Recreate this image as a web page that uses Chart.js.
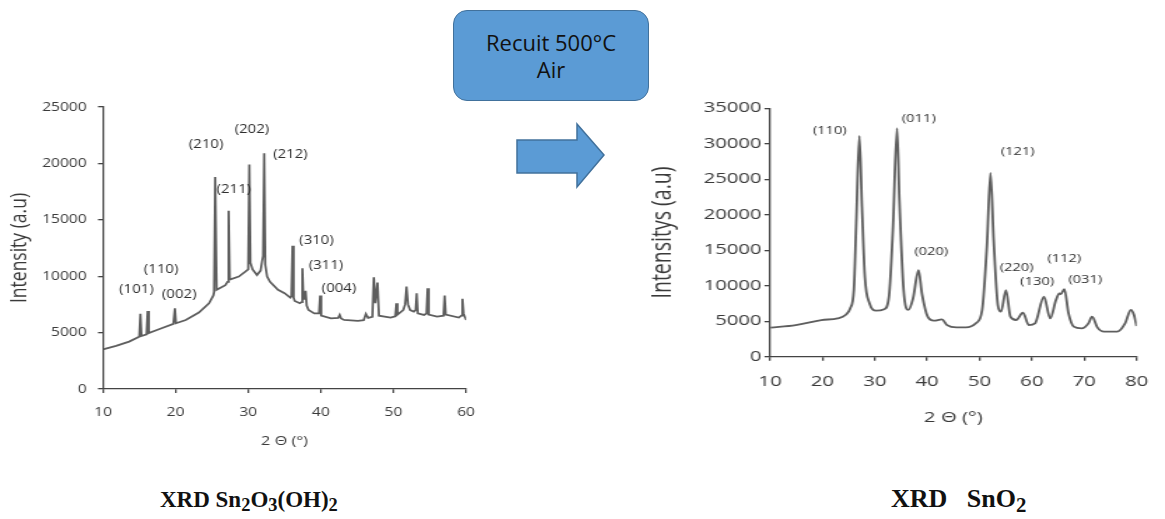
<!DOCTYPE html>
<html>
<head>
<meta charset="utf-8">
<script src="https://cdn.jsdelivr.net/npm/chart.js@4.4.1/dist/chart.umd.min.js"></script>
<style>
  body { margin: 0; background: #fff; width: 1165px; height: 519px; overflow: hidden; position: relative; font-family: "Open Sans", sans-serif; }
  canvas { position: absolute; transform-origin: 0 0; }
  #left { left: 0; top: 90px; transform: scaleX(1.25); }
  #right { left: 640px; top: 90px; transform: scaleX(1.4); }
  #box { position: absolute; left: 453px; top: 10px; width: 194px; height: 89px; border: 1.5px solid #41719c; border-radius: 14px;
         background: #5b9bd5; color: #111; font: 22px/27px "Open Sans", sans-serif; text-align: center;
         display: flex; align-items: center; justify-content: center; }
  #arrow { position: absolute; left: 510px; top: 115px; }
  .ttl { position: absolute; top: 489px; font: bold 23px/22px "Liberation Serif", "Times New Roman", serif; color: #111; white-space: pre; }
  .ttl sub { font-size: 0.8em; vertical-align: -0.22em; line-height: 0; }
</style>
</head>
<body>
<div id="box"><div>Recuit 500°C<br>Air</div></div>
<svg id="arrow" width="100" height="80">
  <polygon points="7,25 67,25 67,9 94,40 67,72 67,58 7,58" fill="#5b9bd5" stroke="#41719c" stroke-width="1.5"/>
</svg>
<canvas id="left" width="392" height="370"></canvas>
<canvas id="right" width="375" height="360"></canvas>
<div class="ttl" style="left:160px">XRD Sn<sub>2</sub>O<sub>3</sub>(OH)<sub>2</sub></div>
<div class="ttl" style="left:891px; top:488px; font-size:26px">XRD   SnO<sub>2</sub></div>
<script>
// Sn2O3(OH)2 pattern
var leftTheta = [10.0, 11.8, 13.6, 14.9, 15.0, 15.15, 15.3, 16.0, 16.15, 16.3, 17.7, 19.7, 19.9, 20.05, 21.4, 23.2,
  24.6, 25.2, 25.3, 25.45, 25.65, 26.85, 27.15, 27.3, 27.45, 28.7, 29.6, 30.0, 30.15, 30.3, 30.6, 31.2, 31.7,
  31.9, 32.05, 32.2, 32.35, 32.6, 33.0, 34.1, 35.0, 35.8, 35.95, 36.1, 36.25, 36.4, 37.1, 37.35, 37.46, 37.6,
  37.75, 37.9, 38.05, 38.3, 39.1, 39.75, 39.9, 40.05, 41.4, 42.4, 42.6, 42.8, 43.2, 45.1, 45.9, 46.2, 46.5,
  47.1, 47.3, 47.5, 47.8, 48.0, 49.6, 50.25, 50.4, 50.55, 51.35, 51.6, 51.8, 52.0, 52.3, 52.8, 53.05, 53.2,
  53.35, 54.2, 54.55, 54.7, 54.85, 56.0, 56.9, 57.05, 57.2, 59.0, 59.35, 59.5, 59.65, 60.0];
var leftIntensity = [3520, 3820, 4200, 4600, 4650, 6660, 4700, 4850, 6920, 4950, 5300, 5780, 7160, 5830, 6120, 6780,
  7600, 8300, 8600, 18800, 8800, 9200, 9500, 15800, 9700, 9970, 10400, 10600, 19900, 11200, 10600, 10100, 10500,
  11300, 11800, 20900, 11000, 9970, 9500, 8800, 8500, 8100, 8200, 12700, 8100, 7800, 7600, 7700, 10700, 8000,
  8000, 8700, 7400, 7000, 6700, 6700, 8280, 6500, 6270, 6300, 6570, 6250, 6120, 6040, 6100, 6660, 6300,
  6400, 9900, 7600, 9440, 6500, 6330, 6450, 7600, 6600, 7000, 7500, 9080, 7500, 7000, 6860, 7000, 8490,
  6700, 6570, 6700, 8930, 6600, 6420, 6500, 8280, 6600, 6330, 6500, 7990, 6700, 6120];
var leftHkl = ['(101)', '(110)', '(002)', '(210)', '(202)', '(211)', '(212)', '(310)', '(311)', '(004)'];
var leftHklTheta = [14.6, 18.0, 20.5, 24.2, 30.5, 28.0, 35.8, 39.4, 40.7, 42.5];
var leftHklIntensity = [8800, 10600, 8400, 21700, 23000, 17700, 20800, 13200, 10900, 8900];

// SnO2 pattern after annealing
var rightTheta = [10.1, 14.9, 19.8, 22.9, 24.4, 25.3, 26.0, 26.45, 27.05, 27.55, 28.1, 29.0, 30.25, 31.8, 32.7,
  33.45, 34.25, 34.7, 35.5, 36.4, 37.3, 38.35, 39.0, 40.1, 41.3, 42.8, 43.8, 45.6, 47.4, 49.3, 50.5, 51.4,
  52.1, 52.7, 53.5, 54.1, 55.05, 55.9, 57.0, 58.3, 59.4, 60.6, 62.3, 63.5, 64.6, 65.25, 65.55, 66.2, 67.0,
  68.0, 69.5, 70.8, 71.5, 72.5, 73.8, 76.3, 77.8, 78.9, 79.5, 80.0];
var rightIntensity = [4090, 4460, 5170, 5400, 5870, 6800, 9400, 18800, 31100, 21100, 11300, 7500, 6500, 6700, 8450,
  17800, 32200, 22100, 9400, 6600, 8200, 12200, 8900, 5640, 5070, 5260, 4460, 4130, 4130, 4700, 6580, 15500,
  25900, 16400, 7280, 6340, 9390, 5640, 5170, 6200, 4460, 4700, 8450, 5400, 7990, 8920, 8830, 9530, 6100,
  4230, 3990, 4700, 5640, 4130, 3520, 3520, 4700, 6580, 5870, 4320];
var rightHkl = ['(110)', '(011)', '(121)', '(020)', '(220)', '(130)', '(112)', '(031)'];
var rightHklTheta = [21.4, 38.4, 57.3, 40.8, 57.1, 61.0, 66.2, 70.2];
var rightHklIntensity = [31800, 33500, 28900, 14800, 12500, 10500, 13800, 10800];

Chart.defaults.font.family = '"Open Sans", sans-serif';
Chart.defaults.color = '#3a3a3a';

// writes the (hkl) labels at their data position
var hklPlugin = {
  id: 'hkl',
  afterDatasetsDraw: function(chart, args, opts) {
    var ctx = chart.ctx;
    ctx.save();
    ctx.font = opts.font;
    ctx.fillStyle = '#2e2e2e';
    ctx.textAlign = 'center';
    ctx.textBaseline = 'middle';
    opts.texts.forEach(function(t, i) {
      ctx.fillText(t, chart.scales.x.getPixelForValue(opts.xs[i]), chart.scales.y.getPixelForValue(opts.ys[i]));
    });
    ctx.restore();
  }
};

function points(xs, ys) {
  return xs.map(function(x, i) { return {x: x, y: ys[i]}; });
}

function xrdChart(id, cfg) {
  var axis = '#444';
  return new Chart(document.getElementById(id), {
    type: 'line',
    data: {
      datasets: [{
        data: points(cfg.theta, cfg.intensity),
        borderColor: '#5e5e5e',
        borderWidth: 1.8,
        pointRadius: 0,
        fill: false,
        tension: cfg.smooth ? 0.4 : 0,
        cubicInterpolationMode: cfg.smooth ? 'monotone' : 'default'
      }]
    },
    options: {
      responsive: false,
      animation: false,
      events: [],
      layout: { padding: { left: 0, right: cfg.padRight, top: cfg.padTop, bottom: 0 } },
      plugins: {
        legend: { display: false },
        tooltip: { enabled: false },
        hkl: { texts: cfg.hkl, xs: cfg.hklTheta, ys: cfg.hklIntensity, font: cfg.hklFont + 'px "Open Sans"' }
      },
      scales: {
        x: {
          type: 'linear', min: 10, max: cfg.xMax,
          ticks: { stepSize: 10, font: { size: cfg.tickFont }, padding: cfg.xTickPad, maxRotation: 0 },
          grid: { drawOnChartArea: false, tickLength: 4, color: axis, lineWidth: 1.3 },
          border: { color: axis, width: 1.3 },
          title: { display: true, text: '2 Θ (°)', font: { size: cfg.xTitleFont }, padding: { top: 0, bottom: cfg.xTitlePad } },
          afterFit: function(s) { s.height = cfg.xHeight; }
        },
        y: {
          min: 0, max: cfg.yMax,
          ticks: { stepSize: 5000, font: { size: cfg.tickFont }, padding: cfg.yTickPad, callback: function(v) { return String(v); } },
          grid: { drawOnChartArea: false, tickLength: 4, color: axis, lineWidth: 1.3 },
          border: { color: axis, width: 1.3 },
          title: { display: true, text: cfg.yTitle, font: { size: cfg.yTitleFont }, padding: { top: cfg.yTitlePad, bottom: 0 } },
          afterFit: function(s) { s.width = cfg.yWidth; }
        }
      }
    },
    plugins: [hklPlugin]
  });
}

xrdChart('left', {
  theta: leftTheta, intensity: leftIntensity, smooth: false,
  hkl: leftHkl, hklTheta: leftHklTheta, hklIntensity: leftHklIntensity, hklFont: 12,
  xMax: 60, yMax: 25000, yTitle: 'Intensity (a.u)',
  padRight: 16.8, padTop: 17, xHeight: 71, yWidth: 82.4,
  tickFont: 12.5, xTickPad: 12, yTickPad: 9, xTitleFont: 13, xTitlePad: 10.5, yTitleFont: 17.5, yTitlePad: 5.5
});

xrdChart('right', {
  theta: rightTheta, intensity: rightIntensity, smooth: true,
  hkl: rightHkl, hklTheta: rightHklTheta, hklIntensity: rightHklIntensity, hklFont: 10.5,
  xMax: 80, yMax: 35000, yTitle: 'Intensitys (a.u)',
  padRight: 10.7, padTop: 18.3, xHeight: 93.3, yWidth: 92.9,
  tickFont: 14.5, xTickPad: 12, yTickPad: 2, xTitleFont: 14.5, xTitlePad: 23.3, yTitleFont: 19.5, yTitlePad: 4.4
});
</script>
</body>
</html>
